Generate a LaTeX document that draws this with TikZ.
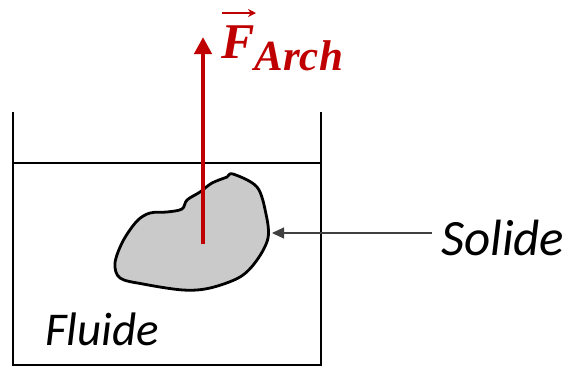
\documentclass[tikz,border=0pt]{standalone}
\usepackage{fontspec}
\setmainfont{Carlito}
\newfontfamily\lserif{Liberation Serif}
\usetikzlibrary{arrows.meta}
\definecolor{fred}{HTML}{C00000}
\definecolor{solidgray}{HTML}{CACACA}
\begin{document}
\begin{tikzpicture}[x=1pt,y=-1pt,
  wall/.style={line width=2.6pt,black},
  lbl/.style={inner sep=0pt,font=\itshape}]
\useasboundingbox (0,0) rectangle (569,368);
% container
\draw[wall] (13,112) -- (13,365) -- (321,365) -- (321,112);
\draw[wall] (13,163) -- (321,163);
% solid
\draw[line width=2.8pt,fill=solidgray,line join=round]
  plot[smooth cycle,tension=0.55] coordinates {
  (233,174) (257,187) (266,214) (268,238) (257,260) (240,277) (210,288)
  (183,290) (143,284) (120,278) (115,263) (123,241) (137,221) (150,213)
  (167,212) (182,209) (187,200) (200,192) (212,183) (227,177)};
% force
\coordinate (fbase) at (203,244);
\coordinate (ftip) at (203,37);
\draw[fred,line width=4.5pt,-{Triangle[length=17pt,width=17pt]}] (fbase) -- (ftip);
\node[anchor=base west,inner sep=0pt,text=fred] (flabel) at (221,58)
  {\lserif\bfseries\itshape\fontsize{50}{50}\selectfont F\fontsize{43}{43}\selectfont\raisebox{-12pt}{Arch}};
\draw[fred,line width=2pt,-{Stealth[length=8pt,width=8pt]}] (222,13) -- (256,13);
% labels
\node[lbl,anchor=base west,font=\fontsize{51}{51}\selectfont\itshape] (solide) at (441,255) {Solide};
\node[lbl,anchor=base west,font=\fontsize{47}{47}\selectfont\itshape] (fluide) at (45,345) {Fluide};
\coordinate (sedge) at (272,233);
\draw[line width=1.3pt,black!75,-{Triangle[length=12pt,width=11pt]}] (432,233) -- (sedge);
\end{tikzpicture}
\end{document}
